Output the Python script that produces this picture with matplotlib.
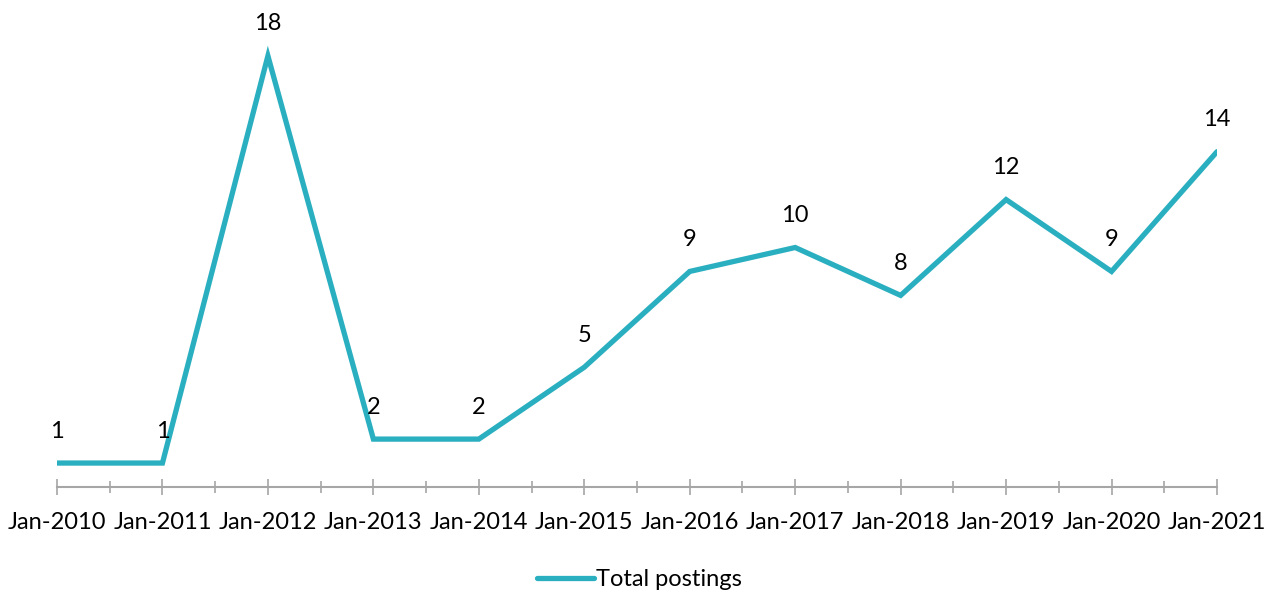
import matplotlib.pyplot as plt
from matplotlib.lines import Line2D

# Data
labels = ['Jan-2010', 'Jan-2011', 'Jan-2012', 'Jan-2013', 'Jan-2014', 'Jan-2015',
          'Jan-2016', 'Jan-2017', 'Jan-2018', 'Jan-2019', 'Jan-2020', 'Jan-2021']
postings = [1, 1, 18, 2, 2, 5, 9, 10, 8, 12, 9, 14]

color = '#2AAFC0'
plt.rcParams['font.family'] = ['Lato', 'DejaVu Sans']

fig = plt.figure(figsize=(12.79, 5.93), dpi=100)
ax = fig.add_axes([57 / 1279, 106 / 593, 1160 / 1279, (487 - 8) / 593])

x = list(range(len(postings)))
ax.plot(x, postings, color=color, linewidth=3.8, solid_capstyle='round',
        solid_joinstyle='miter')

for xi, v in zip(x, postings):
    ax.annotate(str(v), (xi, v), xytext=(0, 23), textcoords='offset points',
                ha='center', va='center', fontsize=17)

ax.set_xlim(0, 11)
ax.set_ylim(0, 20)
ax.set_xticks(x)
ax.set_xticklabels(labels, fontsize=17)
ax.set_xticks([i + 0.5 for i in range(11)], minor=True)
ax.tick_params(axis='x', which='major', direction='inout', length=12, width=1.2,
               color='#A6A6A6', pad=12)
ax.tick_params(axis='x', which='minor', direction='inout', length=8, width=1.2,
               color='#A6A6A6')
ax.set_yticks([])
for s in ['top', 'right', 'left']:
    ax.spines[s].set_visible(False)
ax.spines['bottom'].set_color('#A6A6A6')
ax.spines['bottom'].set_linewidth(1.5)

handle = Line2D([], [], color=color, linewidth=3.8, solid_capstyle='round')
fig.legend([handle], ['Total postings'], loc='center', bbox_to_anchor=(0.5, 13 / 593),
           frameon=False, fontsize=17, handlelength=2.4, handletextpad=0.1)

fig.savefig('out.png', dpi=100)
